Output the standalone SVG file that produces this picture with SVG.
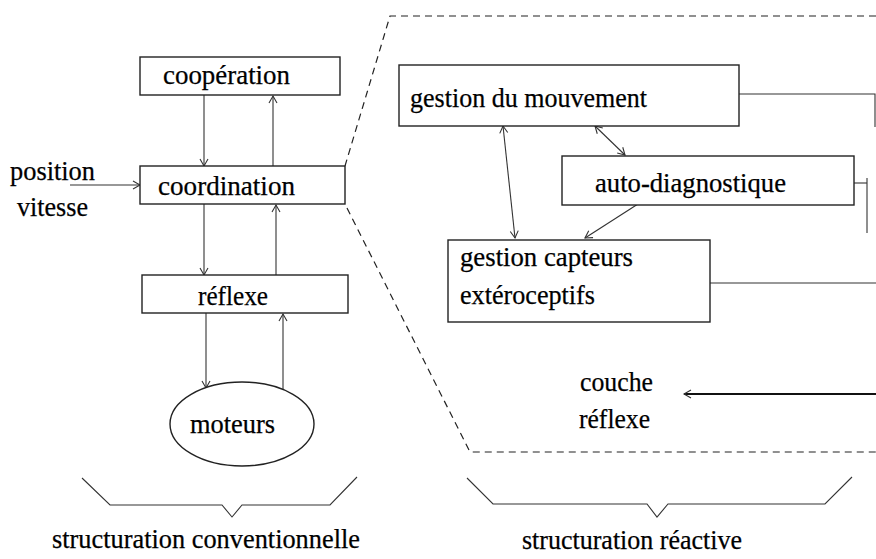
<svg xmlns="http://www.w3.org/2000/svg" width="876" height="559" viewBox="0 0 876 559">
<style>
text{font-family:"Liberation Serif","Times New Roman",serif;font-size:28px;fill:#000;stroke:#000;stroke-width:0.25}
.box{fill:#fff;stroke:#222;stroke-width:1.4}
.ln{fill:none;stroke:#333;stroke-width:1.1}
.dash{fill:none;stroke:#222;stroke-width:1.2;stroke-dasharray:7 5}
.arr{marker-end:url(#ah)}
.bi{marker-start:url(#ahs);marker-end:url(#ah)}
</style>
<defs>
<marker id="ah" markerUnits="userSpaceOnUse" markerWidth="12" markerHeight="12" refX="8" refY="5" orient="auto">
<path d="M1,1 L8,5 L1,9" fill="none" stroke="#333" stroke-width="1.1"/>
</marker>
<marker id="ahs" markerUnits="userSpaceOnUse" markerWidth="12" markerHeight="12" refX="8" refY="5" orient="auto-start-reverse">
<path d="M1,1 L8,5 L1,9" fill="none" stroke="#333" stroke-width="1.1"/>
</marker>
</defs>
<rect width="876" height="559" fill="#fff"/>

<g id="reactive-frame">
<path class="dash" d="M876,16 L390,16 L345,166"/>
<path class="dash" d="M347,208 L470,452 L876,452"/>
</g>

<g id="connectors">
<line class="ln arr" x1="204" y1="95" x2="204" y2="166"/>
<line class="ln arr" x1="273" y1="166" x2="273" y2="96"/>
<line class="ln arr" x1="70" y1="185" x2="140" y2="185"/>
<line class="ln arr" x1="204" y1="204" x2="204" y2="275"/>
<line class="ln arr" x1="276" y1="275" x2="276" y2="205"/>
<line class="ln arr" x1="206" y1="313" x2="206" y2="388"/>
<line class="ln arr" x1="283" y1="390" x2="283" y2="314"/>
<line class="ln bi" x1="503" y1="126" x2="515" y2="238"/>
<line class="ln bi" x1="595" y1="126" x2="625" y2="155"/>
<line class="ln arr" x1="638" y1="204" x2="585" y2="238"/>
<polyline class="ln" points="739,94 875,94 875,127"/>
<polyline class="ln" points="854,183 867,183"/>
<line class="ln" x1="867" y1="178" x2="867" y2="233"/>
<line class="ln" x1="710" y1="283" x2="876" y2="283"/>
<line x1="876" y1="394" x2="684" y2="394" stroke="#111" stroke-width="2" marker-end="url(#ah)"/>
<path class="ln" d="M82,478 L110,505 L222,505 L232,517 L242,505 L330,505 L357,477"/>
<path class="ln" d="M467,478 L493,504 L647,504 L657,517 L668,504 L825,504 L852,477"/>
</g>

<g id="cooperation">
<rect class="box" x="140" y="57" width="200" height="38"/>
<text x="163" y="84" textLength="127" lengthAdjust="spacingAndGlyphs">coopération</text>
</g>
<g id="coordination">
<rect class="box" x="140" y="166" width="205" height="38"/>
<text x="158" y="195" textLength="137" lengthAdjust="spacingAndGlyphs">coordination</text>
</g>
<g id="position-vitesse">
<text x="10" y="180" textLength="85" lengthAdjust="spacingAndGlyphs">position</text>
<text x="17" y="216" textLength="71" lengthAdjust="spacingAndGlyphs">vitesse</text>
</g>
<g id="reflexe">
<rect class="box" x="142" y="275" width="206" height="38"/>
<text x="198" y="305" textLength="70" lengthAdjust="spacingAndGlyphs">réflexe</text>
</g>
<g id="moteurs">
<ellipse class="box" cx="242" cy="424" rx="72" ry="42"/>
<text x="190" y="433" textLength="85" lengthAdjust="spacingAndGlyphs">moteurs</text>
</g>
<g id="gestion-mouvement">
<rect class="box" x="399" y="65" width="340" height="61"/>
<text x="410" y="107" textLength="237" lengthAdjust="spacingAndGlyphs">gestion du mouvement</text>
</g>
<g id="auto-diagnostique">
<rect class="box" x="562" y="156" width="292" height="49"/>
<text x="595" y="192" textLength="191" lengthAdjust="spacingAndGlyphs">auto-diagnostique</text>
</g>
<g id="gestion-capteurs">
<rect class="box" x="448" y="240" width="262" height="82"/>
<text x="460" y="266" textLength="173" lengthAdjust="spacingAndGlyphs">gestion capteurs</text>
<text x="460" y="304" textLength="135" lengthAdjust="spacingAndGlyphs">extéroceptifs</text>
</g>
<g id="couche-reflexe">
<text x="580" y="391" textLength="73" lengthAdjust="spacingAndGlyphs">couche</text>
<text x="579" y="428" textLength="71" lengthAdjust="spacingAndGlyphs">réflexe</text>
</g>
<g id="labels">
<text x="52" y="548" textLength="308" lengthAdjust="spacingAndGlyphs">structuration conventionnelle</text>
<text x="522" y="549" textLength="220" lengthAdjust="spacingAndGlyphs">structuration réactive</text>
</g>
</svg>
